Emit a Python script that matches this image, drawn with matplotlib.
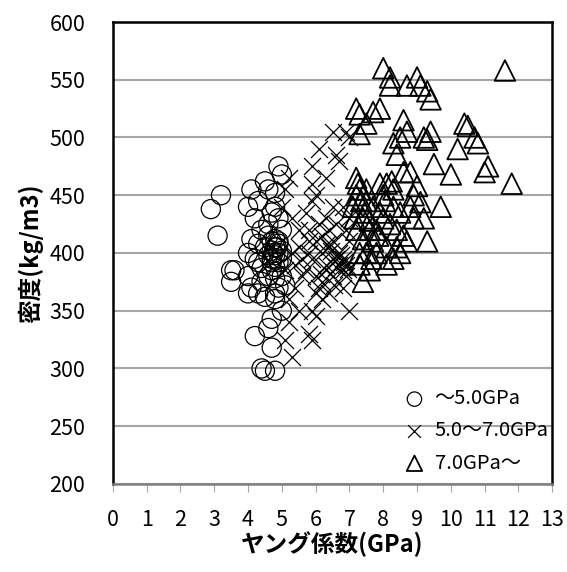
import matplotlib
matplotlib.use("Agg")
import matplotlib.pyplot as plt
import numpy as np

plt.rcParams['font.family'] = ['Noto Sans CJK JP', 'DejaVu Sans']

# ~5.0GPa (circles)
low_x = [2.9, 3.2, 3.1, 3.5, 3.5, 3.6, 4.0, 4.1, 4.2, 4.3, 4.5, 4.6, 4.9, 5.0, 4.8, 4.7,
         4.1, 4.0, 4.2, 4.3, 4.4, 4.5, 4.6, 4.7, 4.8, 4.9, 5.0, 4.9, 4.8, 4.6,
         4.7, 4.8, 4.9, 4.7, 4.8, 4.9, 4.6, 4.7, 4.8, 4.9, 5.0, 4.75, 4.85,
         4.0, 4.1, 4.0, 4.3, 4.4, 4.5, 4.7, 4.8, 5.0, 4.9, 5.1, 4.8,
         4.2, 4.6, 4.7, 4.7, 5.0, 4.8, 4.5, 4.4, 4.8, 4.3, 4.4, 4.6, 5.0]
low_y = [438, 450, 415, 385, 375, 385, 440, 455, 430, 445, 462, 455, 475, 468, 452, 435,
         412, 400, 395, 408, 420, 405, 415, 410, 405, 400, 420, 430, 440, 425,
         395, 398, 392, 402, 412, 408, 398, 392, 388, 410, 402, 400, 405,
         380, 370, 365, 365, 375, 362, 385, 378, 380, 370, 372, 360,
         328, 335, 343, 318, 350, 365, 298, 300, 298, 392, 387, 380, 395]

# 5.0~7.0GPa (crosses)
mid_x = [5.1, 5.2, 5.0, 5.3, 5.5, 5.5, 5.8, 5.9, 5.3, 5.6, 5.1, 5.4, 5.2, 5.5, 5.2, 5.1,
         5.3, 5.9, 6.0, 5.8, 5.9, 6.0, 6.2, 6.4, 6.5, 6.3, 6.8, 6.9, 7.0,
         5.9, 5.9, 5.9, 6.0, 6.3, 6.6, 6.7, 6.5, 6.9, 7.0, 6.1, 6.2, 6.3, 6.5, 6.6,
         6.8, 6.9, 7.0, 6.7, 6.5, 6.2, 6.0, 5.8, 5.7, 6.1, 6.4, 6.6, 6.9, 6.8,
         5.6, 5.7, 6.0, 6.4, 6.7, 7.0, 6.1, 5.4, 6.3, 6.5, 6.8, 5.8, 6.2,
         6.6, 6.75, 6.85, 6.45, 6.55, 6.35, 6.95, 6.15]
mid_y = [455, 465, 440, 430, 420, 405, 410, 395, 400, 380, 385, 370, 360, 350, 340, 325,
         310, 350, 345, 330, 325, 365, 375, 365, 380, 390, 395, 390, 350,
         475, 460, 445, 450, 465, 485, 480, 505, 505, 500, 490, 415, 430, 440, 425,
         440, 420, 410, 400, 410, 400, 410, 420, 435, 425, 420, 395, 380, 370,
         395, 385, 380, 405, 390, 430, 370, 390, 385, 395, 385, 400, 360,
         388, 398, 392, 402, 372, 408, 386, 382]

# 7.0GPa~ (triangles)
high_x = [8.0, 8.2, 8.2, 9.0, 9.1, 8.7, 11.6, 7.2, 7.3, 7.7, 7.9, 7.5, 7.3,
          8.6, 8.7, 8.5, 9.3, 9.4, 10.4, 10.5, 10.7, 10.8, 10.2, 10.0, 11.0, 11.1, 11.8,
          9.5, 9.0, 8.9, 9.2, 9.1, 9.2, 9.4, 9.3, 8.3, 8.4, 8.6, 8.8,
          7.4, 7.6, 7.8, 8.1, 8.3, 8.5, 8.7, 8.9, 9.3, 9.7,
          7.2, 7.3, 7.5, 7.7, 7.9, 8.1, 8.3, 8.0, 7.4, 7.2, 7.6, 7.8, 8.2, 8.4, 8.6,
          7.3, 7.1, 7.2, 8.0, 8.3, 8.5, 8.8, 7.7, 7.5, 7.3, 8.1, 8.4, 7.5, 7.9,
          7.25, 7.35, 7.45, 7.6, 7.85, 8.05, 8.25, 7.15, 7.4, 7.65]
high_y = [560, 552, 545, 552, 545, 545, 558, 525, 520, 522, 525, 512, 503,
          515, 505, 500, 540, 533, 512, 510, 500, 495, 490, 468, 470, 475, 460,
          477, 458, 450, 430, 444, 500, 505, 498, 495, 485, 470, 470,
          375, 385, 400, 405, 395, 400, 410, 430, 410, 440,
          465, 455, 445, 440, 435, 460, 455, 450, 430, 420, 420, 420, 425, 420, 415,
          400, 440, 450, 430, 440, 435, 440, 410, 400, 390, 390, 405, 455, 460,
          460, 445, 435, 428, 415, 445, 462, 430, 412, 395]

fig = plt.figure(figsize=(5.67, 5.72), dpi=100)
ax = fig.add_axes([0.199, 0.154, 0.775, 0.8075])

ax.scatter(low_x, low_y, s=190, marker='o', facecolors='none', edgecolors='black',
           linewidths=0.9, label='～5.0GPa', zorder=3)
ax.scatter(mid_x, mid_y, s=150, marker='x', color='black', linewidths=0.9,
           label='5.0～7.0GPa', zorder=3)
ax.scatter(high_x, high_y, s=220, marker='^', facecolors='none', edgecolors='black',
           linewidths=1.3, label='7.0GPa～', zorder=3)

ax.set_xlim(0, 13)
ax.set_ylim(200, 600)
ax.set_xticks(range(0, 14))
ax.set_yticks(range(200, 601, 50))
ax.yaxis.grid(True, color='#a6a6a6', linewidth=1.5)
ax.set_axisbelow(True)
ax.tick_params(axis='y', length=0, labelsize=15.5, pad=20)
ax.tick_params(axis='x', length=6, color='#a6a6a6', labelsize=15.5, pad=12, direction='out')
for side in ['left', 'right', 'top']:
    ax.spines[side].set_color('black')
    ax.spines[side].set_linewidth(1.8)
ax.spines['bottom'].set_color('#808080')
ax.spines['bottom'].set_linewidth(1.8)

ax.set_xlabel('ヤング係数(GPa)', fontsize=17, fontweight='bold', labelpad=0)
ax.set_ylabel('密度(kg/m3)', fontsize=17, fontweight='bold', labelpad=4)

leg = ax.legend(loc='lower right', frameon=False, fontsize=14.5, handletextpad=0.0,
                borderaxespad=0.0, labelspacing=0.55, markerscale=0.75,
                bbox_to_anchor=(1.01, 0.005))

fig.savefig('out.png', dpi=100)
